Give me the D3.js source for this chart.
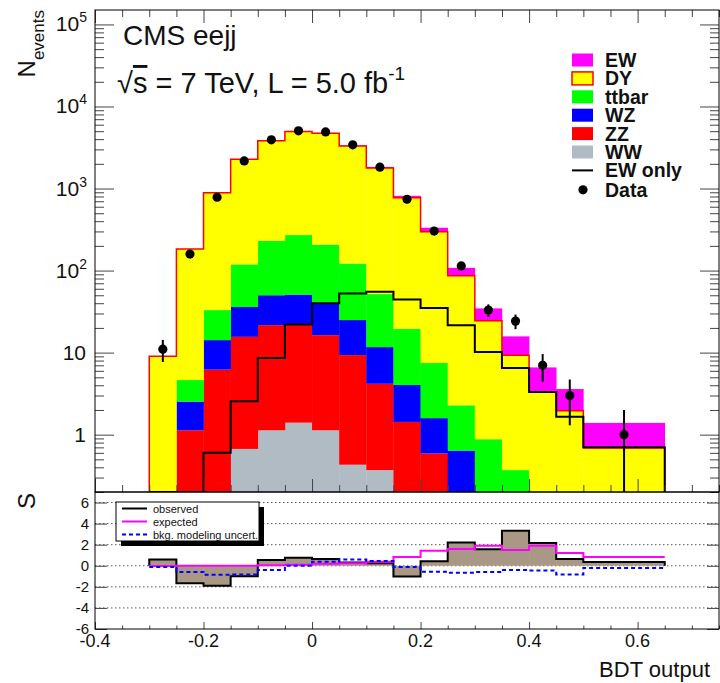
<!DOCTYPE html>
<html>
<head>
<meta charset="utf-8">
<script src="https://cdn.jsdelivr.net/npm/d3@7"></script>
<style>
body { margin: 0; background: #fff; }
svg { font-family: "Liberation Sans", Arial, Helvetica, sans-serif; }
</style>
</head>
<body>
<div id="chart"></div>
<script>
// bin edges of the BDT output (last bin is wider)
const binEdges = [-0.3, -0.25, -0.2, -0.15, -0.1, -0.05, 0, 0.05, 0.1, 0.15, 0.2, 0.25, 0.3, 0.35, 0.4, 0.45, 0.5, 0.65];

// stacked expectations, events per bin
const WW    = [0, 0, 0, 0.67, 1.13, 1.4, 1.13, 0.43, 0.37, 0, 0, 0, 0, 0, 0, 0, 0];
const ZZ    = [0, 1.13, 6.2, 14.9, 20.5, 20.6, 15.2, 8.9, 3.8, 1.43, 0.59, 0, 0, 0, 0, 0, 0];
const WZ    = [0, 1.4, 8.0, 20.4, 28.4, 29, 23.7, 15.6, 7.5, 2.6, 1.0, 0.64, 0, 0, 0, 0, 0];
const ttbar = [0, 2.1, 18.8, 83, 181, 220, 167, 97, 40, 15.4, 5.9, 1.64, 0.88, 0.37, 0, 0, 0];
const DY    = [9.0, 178, 858, 2161, 3579, 4679, 4513, 3178, 1728, 751, 290, 84, 23.5, 8.9, 3.3, 1.95, 0.69];
const EW    = [0.05, 0.12, 0.6, 2.55, 8.6, 22, 40, 52.7, 55, 44.5, 35, 21.6, 10.2, 6.5, 3.3, 1.65, 0.7];

// data points
const dataN   = [11, 159, 783, 2170, 3920, 5050, 4900, 3410, 1820, 740, 303, 114, 33, 24.2, 7.0, 3.0, 1.0];
const dataErr = [3.3, 12.6, 28, 46.6, 62.6, 71, 70, 58.4, 42.7, 27.2, 17.4, 10.7, 5.7, 4.9, 2.6, 1.7, 1.0];

// significance panel
const observed = [0.6, -1.65, -1.9, -1.0, 0.55, 0.75, 0.65, 0.32, 0.23, -1.02, 0.42, 2.2, 1.56, 3.33, 2.15, 0.65, 0.35];
const expected = [-0.02, 0, 0, 0, 0.05, 0.1, 0.18, 0.25, 0.38, 0.83, 1.42, 1.58, 1.9, 1.5, 1.9, 1.2, 0.83];
const bkgUnc   = [-0.12, -0.58, -0.85, -0.82, -0.41, 0, 0.38, 0.6, 0.45, -0.12, -0.57, -0.67, -0.6, -0.4, -0.46, -0.82, -0.2];

// tick labels
const xTickLabels = [-0.4, -0.2, 0, 0.2, 0.4, 0.6];
const sTicks = [-6, -4, -2, 0, 2, 4, 6];
const decades = [1, 10, 100, 1000, 10000, 100000];

const stackKeys = ["WW", "ZZ", "WZ", "ttbar", "DY", "EW"];
const colors = {WW: "#b0bbc4", ZZ: "#ff0000", WZ: "#0000ff", ttbar: "#00ff00", DY: "#ffff00", EW: "#ff00ff"};
const legendLabels = ["EW", "DY", "ttbar", "WZ", "ZZ", "WW"];

const W = 720, H = 683;
const padL = 95, padR = 719, padT = 10, padM = 492, padB = 629;
const yMin = 0.2;

const svg = d3.select("#chart").append("svg")
    .attr("width", W).attr("height", H);

const x = d3.scaleLinear().domain([-0.4, 0.75]).range([padL, padR]);
const y = d3.scaleLog().domain([yMin, 1.5e5]).range([padM, padT]);
const ys = d3.scaleLinear().domain([-6, 7]).range([padB, padM]);

svg.append("defs").append("clipPath").attr("id", "clipMain")
    .append("rect").attr("x", padL).attr("y", padT).attr("width", padR - padL).attr("height", padM - padT);

// step helper: returns [x, value] points of a histogram contour
function steps(vals, base) {
    let pts = [];
    if (base !== undefined) pts.push([binEdges[0], base]);
    vals.forEach((v, i) => {
        pts.push([binEdges[i], v]);
        pts.push([binEdges[i + 1], v]);
    });
    if (base !== undefined) pts.push([binEdges[binEdges.length - 1], base]);
    return pts;
}

// ---------- main panel ----------
let main = svg.append("g").attr("clip-path", "url(#clipMain)");

let table = binEdges.slice(0, -1).map((e, i) => ({
    lo: e, hi: binEdges[i + 1],
    WW: WW[i], ZZ: ZZ[i], WZ: WZ[i], ttbar: ttbar[i], DY: DY[i], EW: EW[i]
}));
let stacked = d3.stack().keys(stackKeys)(table);

stacked.forEach(layer => {
    main.append("g").selectAll("rect")
        .data(layer.filter(d => d[1] > yMin && d[1] > d[0]))
        .join("rect")
        .attr("x", d => x(d.data.lo))
        .attr("width", d => x(d.data.hi) - x(d.data.lo) + 0.3)
        .attr("y", d => y(d[1]))
        .attr("height", d => y(Math.max(d[0], yMin)) - y(d[1]))
        .attr("fill", colors[layer.key]);
});

let lineMain = d3.line()
    .x(d => x(d[0]))
    .y(d => y(Math.max(d[1], yMin)));

// red outline of DY
let dyTop = stacked[4].map(d => d[1]);
main.append("path")
    .attr("d", lineMain(steps(dyTop, yMin)))
    .attr("fill", "none").attr("stroke", "#ff0000").attr("stroke-width", 1.5);

// EW only
main.append("path")
    .attr("d", lineMain(steps(EW, yMin)))
    .attr("fill", "none").attr("stroke", "#000").attr("stroke-width", 2);

// data
let centers = binEdges.slice(0, -1).map((e, i) => (e + binEdges[i + 1]) / 2);
main.append("g").selectAll("line")
    .data(dataN)
    .join("line")
    .attr("x1", (d, i) => x(centers[i])).attr("x2", (d, i) => x(centers[i]))
    .attr("y1", (d, i) => y(d + dataErr[i]))
    .attr("y2", (d, i) => y(Math.max(d - dataErr[i], yMin)))
    .attr("stroke", "#000").attr("stroke-width", 2);
main.append("g").selectAll("circle")
    .data(dataN)
    .join("circle")
    .attr("cx", (d, i) => x(centers[i]))
    .attr("cy", d => y(d))
    .attr("r", 4.6)
    .attr("fill", "#000");

// main axes
let logTicks = y.ticks();
function isDecade(v) { return Math.abs(Math.log10(v) - Math.round(Math.log10(v))) < 1e-6; }

let yl = svg.append("g").attr("transform", `translate(${padL},0)`)
    .call(d3.axisLeft(y).tickValues(logTicks).tickSize(-9).tickFormat(""));
yl.selectAll(".tick line").filter(d => isDecade(d)).attr("x2", 19);
let yr = svg.append("g").attr("transform", `translate(${padR},0)`)
    .call(d3.axisRight(y).tickValues(logTicks).tickSize(-9).tickFormat(""));
yr.selectAll(".tick line").filter(d => isDecade(d)).attr("x2", -19);

let xMinor = d3.range(-0.4, 0.751, 0.05).map(v => +v.toFixed(2));
function isMajor(v) { return Math.abs(v / 0.2 - Math.round(v / 0.2)) < 1e-6; }

let xt = svg.append("g").attr("transform", `translate(0,${padT})`)
    .call(d3.axisTop(x).tickValues(xMinor).tickSize(-7).tickFormat(""));
xt.selectAll(".tick line").filter(d => isMajor(d)).attr("y2", 13);
let xb = svg.append("g").attr("transform", `translate(0,${padM})`)
    .call(d3.axisBottom(x).tickValues(xMinor).tickSize(-7).tickFormat(""));
xb.selectAll(".tick line").filter(d => isMajor(d)).attr("y2", -13);

[yl, yr, xt, xb].forEach(g => {
    g.select(".domain").remove();
    g.selectAll(".tick line").attr("stroke", "#444");
});

// decade labels
let decLab = svg.append("g").selectAll("text")
    .data(decades)
    .join("text")
    .attr("x", d => d < 100 ? 86 : 87)
    .attr("y", d => y(d) + 7)
    .attr("text-anchor", "end")
    .attr("font-size", 21)
    .attr("fill", "#111");
decLab.each(function(d) {
    let t = d3.select(this);
    if (d < 100) { t.text(String(d)); return; }
    t.append("tspan").text("10");
    t.append("tspan").attr("font-size", 14).attr("dy", -9).text(Math.round(Math.log10(d)));
});

svg.append("rect").attr("x", padL).attr("y", padT).attr("width", padR - padL).attr("height", padM - padT)
    .attr("fill", "none").attr("stroke", "#000").attr("stroke-width", 1);

// y title
let yt = svg.append("text")
    .attr("transform", `translate(35,10) rotate(-90)`)
    .attr("text-anchor", "end").attr("fill", "#111");
yt.append("tspan").attr("font-size", 24).text("N");
yt.append("tspan").attr("font-size", 17).attr("dy", 9).text("events");

// header
svg.append("text").attr("x", 123).attr("y", 45).attr("font-size", 28).attr("fill", "#111").text("CMS eejj");
let lum = svg.append("text").attr("x", 117).attr("y", 93).attr("font-size", 29).attr("fill", "#111");
lum.append("tspan").text("√");
lum.append("tspan").style("text-decoration", "overline").text("s");
lum.append("tspan").text(" = 7 TeV, L = 5.0 fb");
lum.append("tspan").attr("font-size", 19).attr("dy", -13).text("-1");

// main legend
let leg = svg.append("g").attr("transform", "translate(572,60)");
let legRows = leg.selectAll("g").data(legendLabels).join("g")
    .attr("transform", (d, i) => `translate(0,${i * 18.4})`);
legRows.append("rect")
    .attr("x", 0).attr("y", -6.5).attr("width", 21).attr("height", 13)
    .attr("fill", d => colors[d])
    .attr("stroke", d => d === "DY" ? "#ff0000" : "none").attr("stroke-width", 1.5);
legRows.append("text").attr("x", 33).attr("y", 7).attr("font-size", 19.5).attr("font-weight", "bold")
    .attr("fill", "#111").text(d => d);
leg.append("line").attr("x1", 0).attr("x2", 21).attr("y1", 6 * 18.4).attr("y2", 6 * 18.4)
    .attr("stroke", "#000").attr("stroke-width", 2);
leg.append("text").attr("x", 33).attr("y", 6 * 18.4 + 7).attr("font-size", 19.5).attr("font-weight", "bold")
    .attr("fill", "#111").text("EW only");
leg.append("circle").attr("cx", 11).attr("cy", 7 * 18.4 + 1).attr("r", 4.6).attr("fill", "#000");
leg.append("text").attr("x", 33).attr("y", 7 * 18.4 + 8).attr("font-size", 19.5).attr("font-weight", "bold")
    .attr("fill", "#111").text("Data");

// ---------- significance panel ----------
let low = svg.append("g");

low.append("g").selectAll("line")
    .data(sTicks.filter(d => d > -6))
    .join("line")
    .attr("x1", padL).attr("x2", padR)
    .attr("y1", d => ys(d)).attr("y2", d => ys(d))
    .attr("stroke", "#555").attr("stroke-width", 1).attr("stroke-dasharray", "1.5,2.5");

low.append("g").selectAll("rect")
    .data(observed)
    .join("rect")
    .attr("x", (d, i) => x(binEdges[i]))
    .attr("width", (d, i) => x(binEdges[i + 1]) - x(binEdges[i]) + 0.3)
    .attr("y", d => Math.min(ys(d), ys(0)))
    .attr("height", d => Math.abs(ys(d) - ys(0)))
    .attr("fill", "#a99886");

let lineLow = d3.line().x(d => x(d[0])).y(d => ys(d[1]));
low.append("path").attr("d", lineLow(steps(observed, 0)))
    .attr("fill", "none").attr("stroke", "#000").attr("stroke-width", 2);
low.append("path").attr("d", lineLow(steps(expected)))
    .attr("fill", "none").attr("stroke", "#ff00ff").attr("stroke-width", 2);
low.append("path").attr("d", lineLow(steps(bkgUnc)))
    .attr("fill", "none").attr("stroke", "#0000ff").attr("stroke-width", 2).attr("stroke-dasharray", "4,3");

let sl = svg.append("g").attr("transform", `translate(${padL},0)`)
    .call(d3.axisLeft(ys).tickValues(sTicks).tickSize(-12).tickPadding(6).tickFormat(d => String(d)));
let sr = svg.append("g").attr("transform", `translate(${padR},0)`)
    .call(d3.axisRight(ys).tickValues(sTicks).tickSize(-12).tickFormat(""));
let xs = svg.append("g").attr("transform", `translate(0,${padB})`)
    .call(d3.axisBottom(x).tickValues(xMinor).tickSize(-3.5).tickPadding(5).tickFormat(""));
xs.selectAll(".tick line").filter(d => isMajor(d)).attr("y2", -7);
[sl, sr, xs].forEach(g => {
    g.select(".domain").remove();
    g.selectAll(".tick line").attr("stroke", "#444");
});
sl.selectAll("text").attr("font-size", 15).attr("fill", "#111");
sl.attr("font-family", null);

svg.append("g").selectAll("text")
    .data(xTickLabels)
    .join("text")
    .attr("x", d => x(d))
    .attr("y", 647)
    .attr("text-anchor", "middle")
    .attr("font-size", 18)
    .attr("fill", "#111")
    .text(d => d === 0 ? "0" : d.toFixed(1));

svg.append("rect").attr("x", padL).attr("y", padM).attr("width", padR - padL).attr("height", padB - padM)
    .attr("fill", "none").attr("stroke", "#000").attr("stroke-width", 1);

svg.append("text")
    .attr("transform", `translate(35,493) rotate(-90)`)
    .attr("text-anchor", "end").attr("font-size", 24).attr("fill", "#111").text("S");

svg.append("text").attr("x", 710).attr("y", 677).attr("text-anchor", "end")
    .attr("font-size", 22).attr("fill", "#111").text("BDT output");

// significance legend
let sleg = svg.append("g").attr("transform", "translate(116,502)");
sleg.append("rect").attr("x", 5).attr("y", 5).attr("width", 143).attr("height", 39).attr("fill", "#000");
sleg.append("rect").attr("x", 0).attr("y", 0).attr("width", 143).attr("height", 39)
    .attr("fill", "#fff").attr("stroke", "#000").attr("stroke-width", 1);
let slegItems = [
    {label: "observed", color: "#000", dash: null},
    {label: "expected", color: "#ff00ff", dash: null},
    {label: "bkg. modeling uncert.", color: "#0000ff", dash: "4,3"}
];
let sRows = sleg.selectAll("g.row").data(slegItems).join("g").attr("class", "row")
    .attr("transform", (d, i) => `translate(0,${6.5 + i * 13})`);
sRows.append("line").attr("x1", 6).attr("x2", 31).attr("y1", 0).attr("y2", 0)
    .attr("stroke", d => d.color).attr("stroke-width", 2).attr("stroke-dasharray", d => d.dash);
sRows.append("text").attr("x", 37).attr("y", 4).attr("font-size", 11).attr("fill", "#111").text(d => d.label);
</script>
</body>
</html>
